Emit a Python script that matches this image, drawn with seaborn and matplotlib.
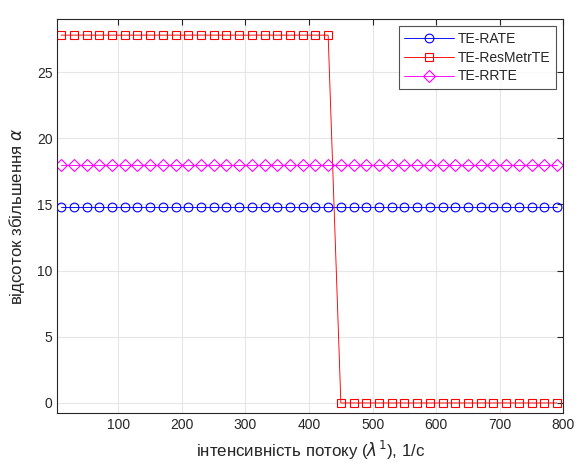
import matplotlib
matplotlib.use("Agg")
import matplotlib.pyplot as plt
import seaborn as sns
import pandas as pd

# arrival intensity lambda^1, 1/s
intensity = [10, 30, 50, 70, 90, 110, 130, 150, 170, 190,
             210, 230, 250, 270, 290, 310, 330, 350, 370, 390,
             410, 430, 450, 470, 490, 510, 530, 550, 570, 590,
             610, 630, 650, 670, 690, 710, 730, 750, 770, 790]

# gain percentage for each method
te_rate = [14.8] * 40
te_resmetrte = [27.8] * 22 + [0.0] * 18
te_rrte = [17.95] * 40

x_ticks = [100, 200, 300, 400, 500, 600, 700, 800]
y_ticks = [0, 5, 10, 15, 20, 25]

sns.set_style("white")
plt.rcParams["font.family"] = ["Liberation Sans", "DejaVu Sans"]
plt.rcParams["mathtext.fontset"] = "dejavusans"

df = pd.DataFrame({
    "x": intensity,
    "TE-RATE": te_rate,
    "TE-ResMetrTE": te_resmetrte,
    "TE-RRTE": te_rrte,
})

fig = plt.figure(figsize=(5.79, 4.66), dpi=100)
ax = fig.add_axes([0.099, 0.1137, 0.874, 0.845])

series = [("TE-RATE", "#0000ff", "o", 6.3),
          ("TE-ResMetrTE", "#ff0000", "s", 6.0),
          ("TE-RRTE", "#ff00ff", "D", 5.8)]
for name, color, mk, ms in series:
    sns.lineplot(data=df, x="x", y=name, ax=ax, color=color, marker=mk,
                 markersize=ms, mfc="none", mec=color,
                 mew=0.8, linewidth=0.65, label=name)

ax.set_xlim(4, 800)
ax.set_ylim(-0.76, 29.0)
ax.set_xticks(x_ticks)
ax.set_yticks(y_ticks)
ax.grid(True, color="#e6e6e6", linewidth=0.8)
ax.set_axisbelow(True)
ax.tick_params(direction="in", length=4, width=0.8, colors="#262626",
               labelsize=10, top=True, right=True,
               labeltop=False, labelright=False)
for sp in ax.spines.values():
    sp.set_color("#262626")
    sp.set_linewidth(0.8)

ax.set_xlabel("інтенсивність потоку ($\\lambda^1$), 1/с", fontsize=12.2,
              color="#262626", labelpad=5)
ax.set_ylabel("відсоток збільшення $\\alpha$", fontsize=12.2,
              color="#262626", labelpad=7)

leg = ax.legend(loc="upper right", fontsize=10, frameon=True, fancybox=False,
                edgecolor="#262626", borderaxespad=0.5, handlelength=3.6,
                labelspacing=0.35, borderpad=0.4, handletextpad=0.3)
leg.get_frame().set_linewidth(0.8)

fig.savefig("out.png", dpi=100)
